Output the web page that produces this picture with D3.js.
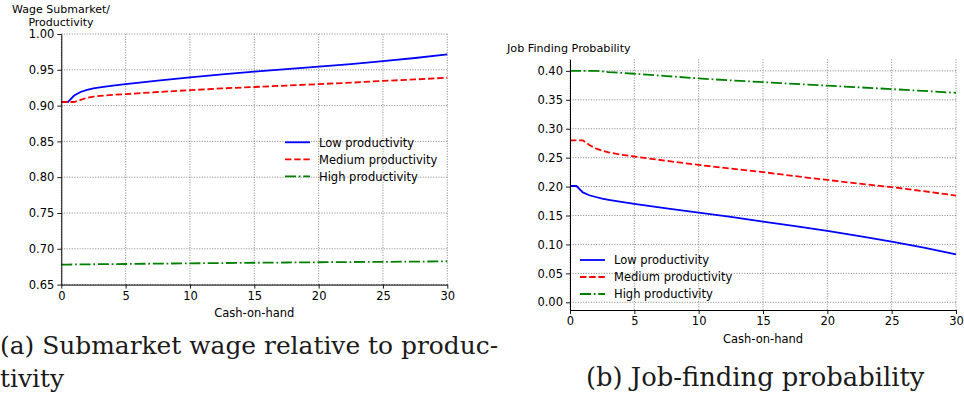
<!DOCTYPE html>
<html>
<head>
<meta charset="utf-8">
<script src="https://cdn.jsdelivr.net/npm/d3@7"></script>
<style>
  html, body { margin: 0; padding: 0; background: #fff; }
  svg { display: block; }
</style>
</head>
<body>
<svg id="fig" width="964" height="401"></svg>
<script>
// Cash-on-hand grid shared by every series
const cash = [0, 0.5, 1, 1.5, 2, 2.5, 3, 4, 5, 7.5, 10, 12.5, 15, 17.5, 20, 22.5, 25, 27.5, 30];

// Panel (a): submarket wage relative to productivity
const wageLow    = [0.905, 0.905, 0.914, 0.919, 0.922, 0.924, 0.9255, 0.928, 0.930, 0.935, 0.9395, 0.9435, 0.9475, 0.951, 0.9545, 0.958, 0.962, 0.9665, 0.9715];
const wageMedium = [0.905, 0.905, 0.905, 0.908, 0.911, 0.9125, 0.9135, 0.915, 0.916, 0.919, 0.9215, 0.924, 0.926, 0.928, 0.930, 0.932, 0.9345, 0.9365, 0.939];
const wageHigh   = [0.678, 0.678, 0.6781, 0.6782, 0.6783, 0.6784, 0.6785, 0.6787, 0.6788, 0.6793, 0.6797, 0.6801, 0.6805, 0.6809, 0.6812, 0.6815, 0.6818, 0.6821, 0.6825];

// Panel (b): job-finding probability
const jobLow    = [0.201, 0.201, 0.190, 0.185, 0.182, 0.179, 0.177, 0.1735, 0.170, 0.1625, 0.155, 0.1475, 0.1395, 0.1315, 0.1235, 0.1145, 0.105, 0.0945, 0.083];
const jobMedium = [0.280, 0.280, 0.280, 0.272, 0.266, 0.262, 0.259, 0.255, 0.252, 0.2445, 0.2375, 0.231, 0.225, 0.218, 0.2115, 0.205, 0.199, 0.192, 0.1845];
const jobHigh   = [0.400, 0.400, 0.400, 0.400, 0.400, 0.399, 0.398, 0.3965, 0.395, 0.391, 0.387, 0.3835, 0.3805, 0.3775, 0.3745, 0.3715, 0.3685, 0.3653, 0.362];

const xTicks = [0, 5, 10, 15, 20, 25, 30];
const wageTicks = [0.65, 0.70, 0.75, 0.80, 0.85, 0.90, 0.95, 1.00];
const jobTicks = [0.00, 0.05, 0.10, 0.15, 0.20, 0.25, 0.30, 0.35, 0.40];
const seriesNames = ["Low productivity", "Medium productivity", "High productivity"];

const styles = [
  { color: "#0000ff", dash: null },
  { color: "#ff0000", dash: "6.4,2.8" },
  { color: "#008000", dash: "11,2.8,1.7,2.8" }
];

const SANS = "DejaVu Sans";
const SERIF = "DejaVu Serif";
const FS = 11.5;

const svg = d3.select("#fig");

function label(parent, txt, x, y, anchor, size) {
  return parent.append("text")
    .attr("font-family", SANS).attr("font-size", size || FS).attr("fill", "#000")
    .attr("text-anchor", anchor || "start")
    .attr("x", x).attr("y", y).text(txt);
}

function panel(cfg) {
  const g = svg.append("g");
  const x = d3.scaleLinear().domain([0, 30]).range(cfg.xr);
  const y = d3.scaleLinear().domain(cfg.yd).range(cfg.yr);
  const [x0, x1] = cfg.xr;
  const [yb, yt] = cfg.yr;

  // dotted grid
  const grid = g.append("g").attr("stroke", "#8a8a8a").attr("stroke-width", 0.9)
    .attr("stroke-dasharray", "1.2,1.4").attr("fill", "none");
  grid.selectAll(".gh").data(cfg.yTicks).join("line")
    .attr("x1", x0).attr("x2", x1).attr("y1", d => y(d)).attr("y2", d => y(d));
  grid.selectAll(".gv").data(xTicks).join("line")
    .attr("x1", d => x(d)).attr("x2", d => x(d)).attr("y1", yb).attr("y2", yt);

  // series
  const line = d3.line().x((d, i) => x(cash[i])).y(d => y(d));
  cfg.series.forEach((s, k) => {
    g.append("path").datum(s).attr("d", line)
      .attr("fill", "none").attr("stroke", styles[k].color).attr("stroke-width", 1.8)
      .attr("stroke-dasharray", styles[k].dash);
  });

  // axes
  const xa = g.append("g").attr("transform", `translate(0,${yb})`)
    .call(d3.axisBottom(x).tickValues(xTicks).tickSizeInner(4).tickSizeOuter(0).tickPadding(3).tickFormat(d3.format("d")));
  const ya = g.append("g").attr("transform", `translate(${x0},0)`)
    .call(d3.axisLeft(y).tickValues(cfg.yTicks).tickSizeInner(4).tickSizeOuter(0).tickPadding(3).tickFormat(d3.format(".2f")));
  [xa, ya].forEach(a => {
    a.attr("font-family", SANS).attr("font-size", FS);
    a.select(".domain").attr("stroke", "#000").attr("stroke-width", 1);
    a.selectAll(".tick line").attr("stroke", "#000").attr("stroke-width", 0.9);
    a.selectAll(".tick text").attr("fill", "#000");
  });
  xa.selectAll(".tick text").attr("dy", "0.71em");

  // x label
  label(g, "Cash-on-hand", (x0 + x1) / 2, cfg.xLabelY, "middle");

  // legend
  const lg = g.append("g").attr("transform", `translate(${cfg.legend[0]},${cfg.legend[1]})`);
  seriesNames.forEach((name, k) => {
    const row = lg.append("g").attr("transform", `translate(0,${k * 17})`);
    row.append("line").attr("x1", 0).attr("x2", 25).attr("y1", 0).attr("y2", 0)
      .attr("stroke", styles[k].color).attr("stroke-width", 1.8)
      .attr("stroke-dasharray", styles[k].dash);
    label(row, name, 34, 4.2);
  });
  return g;
}

panel({
  xr: [61.3, 447.3], yd: [0.65, 1.0], yr: [284.6, 34],
  yTicks: wageTicks, series: [wageLow, wageMedium, wageHigh],
  xLabelY: 317, legend: [285, 142.3]
});

panel({
  xr: [570, 956], yd: [-0.0133, 0.42], yr: [310, 59.3],
  yTicks: jobTicks, series: [jobLow, jobMedium, jobHigh],
  xLabelY: 343, legend: [580, 260]
});

// y-axis titles
label(svg, "Wage Submarket/", 61, 13, "middle", 11);
label(svg, "Productivity", 61, 25.5, "middle", 11);
label(svg, "Job Finding Probability", 507, 52, "start", 11.2);

// sub-figure captions
function caption(txt, x, y, size) {
  svg.append("text").attr("font-family", SERIF).attr("font-size", size).attr("fill", "#1a1a1a")
    .attr("x", x).attr("y", y).text(txt);
}
caption("(a) Submarket wage relative to produc-", 0, 354, 24.9);
caption("tivity", 0, 387, 24.9);
caption("(b) Job-finding probability", 586, 386, 25.8);
</script>
</body>
</html>
